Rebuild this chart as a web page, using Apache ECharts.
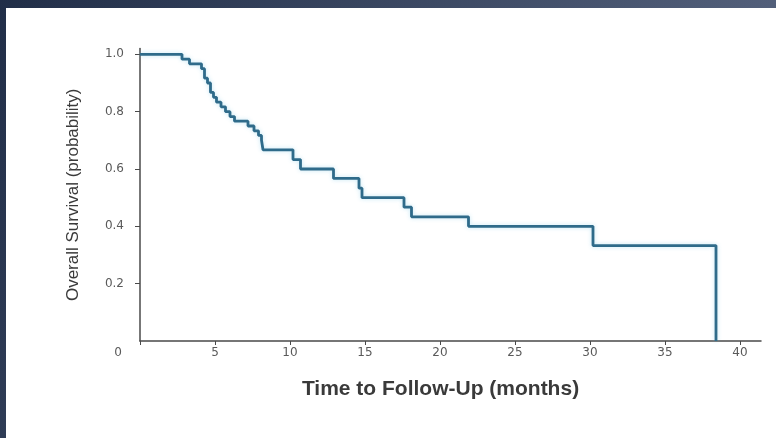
<!DOCTYPE html>
<html>
<head>
<meta charset="utf-8">
<title>Overall Survival</title>
<script src="https://cdn.jsdelivr.net/npm/echarts@6/dist/echarts.min.js"></script>
<style>
  html, body { margin: 0; padding: 0; background: #2a3752; }
  #chart { width: 776px; height: 438px; }
</style>
</head>
<body>
<div id="chart"></div>
<script>
// Kaplan-Meier estimate: event times (months) and survival probability after each event
const timeMonths = [0, 2.8, 3.3, 4.1, 4.3, 4.5, 4.7, 4.9, 5.1, 5.4, 5.7, 6.0, 6.3, 7.2, 7.6, 7.9, 8.1, 8.2,
                    10.2, 10.7, 12.9, 14.6, 14.8, 17.6, 18.1, 21.9, 30.2, 38.4];
const survival   = [1.0, 0.983, 0.967, 0.95, 0.917, 0.9, 0.867, 0.85, 0.833, 0.817, 0.8, 0.783, 0.767, 0.75, 0.733, 0.717, 0.7, 0.667,
                    0.633, 0.6, 0.567, 0.533, 0.5, 0.467, 0.433, 0.4, 0.333, 0.0];

const xTickValues = [0, 5, 10, 15, 20, 25, 30, 35, 40];
const yTickValues = [0.2, 0.4, 0.6, 0.8, 1.0];

const xTitle = 'Time to Follow-Up (months)';
const yTitle = 'Overall Survival (probability)';

const points = timeMonths.map((t, i) => [t, survival[i]]);

const chart = echarts.init(document.getElementById('chart'), null, { renderer: 'canvas' });

const axisColor = '#4a4a4a';
const labelColor = '#5a5a5a';

chart.setOption({
  backgroundColor: {
    type: 'linear', global: true,
    x: 0, y: 0, x2: 776, y2: 380,
    colorStops: [
      { offset: 0, color: '#212e48' },
      { offset: 1, color: '#5e6b86' }
    ]
  },
  animation: false,
  graphic: [{
    type: 'rect', z: -10, silent: true,
    shape: { x: 6, y: 8, width: 770, height: 430 },
    style: { fill: '#ffffff' }
  }],
  grid: { left: 140, right: 15, top: 48.6, bottom: 97, containLabel: false },
  xAxis: {
    type: 'value', min: 0, max: 41.4,
    name: xTitle, nameLocation: 'middle', nameGap: 38,
    nameTextStyle: {
      fontFamily: 'Liberation Sans, Arial, sans-serif', fontSize: 21, fontWeight: 'bold',
      color: '#3a3a3a', padding: [0, 20, 0, 0]
    },
    axisLine: { show: true, onZero: false, lineStyle: { color: axisColor, width: 1.5 } },
    axisTick: { show: true, inside: false, length: 4, customValues: xTickValues,
                lineStyle: { color: axisColor, width: 1 } },
    axisLabel: {
      customValues: xTickValues, margin: 6,
      fontFamily: 'DejaVu Sans, sans-serif', fontSize: 12, color: labelColor,
      formatter: v => (v === 0 ? '{z|0}' : String(v)),
      rich: { z: { fontFamily: 'DejaVu Sans, sans-serif', fontSize: 12, color: labelColor, padding: [0, 44, 0, 0] } }
    },
    splitLine: { show: false }
  },
  yAxis: {
    type: 'value', min: 0, max: 1.02,
    name: yTitle, nameLocation: 'middle', nameGap: 58, nameRotate: 90,
    nameTextStyle: {
      fontFamily: 'Liberation Sans, Arial, sans-serif', fontSize: 17,
      color: '#3a3a3a'
    },
    axisLine: { show: true, onZero: false, lineStyle: { color: axisColor, width: 1.5 } },
    axisTick: { show: true, inside: false, length: 5, customValues: yTickValues,
                lineStyle: { color: axisColor, width: 1 } },
    axisLabel: {
      customValues: yTickValues, margin: 16,
      fontFamily: 'DejaVu Sans, sans-serif', fontSize: 12, color: labelColor,
      formatter: v => v.toFixed(1)
    },
    splitLine: { show: false }
  },
  series: [{
    type: 'line',
    step: 'end',
    data: points,
    showSymbol: false,
    lineStyle: { color: '#2f6b8a', width: 2.8,
                 shadowColor: 'rgba(120, 200, 230, 0.45)', shadowBlur: 4 },
    clip: false
  }]
});
</script>
</body>
</html>
